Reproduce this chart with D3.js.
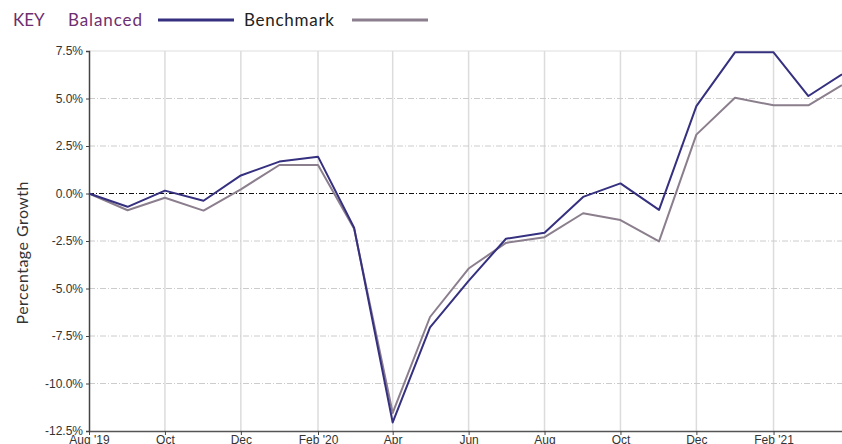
<!DOCTYPE html>
<html>
<head>
<meta charset="utf-8">
<script src="https://cdn.jsdelivr.net/npm/d3@7"></script>
<style>
  body { margin: 0; background: #fff; }
  .tick text { font-family: "Liberation Sans", Arial, sans-serif; font-size: 12px; fill: #333; }
</style>
</head>
<body>
<div id="chart"></div>
<script>
// monthly readings, % growth since Aug '19
var dates = ["2019-08-01","2019-09-01","2019-10-01","2019-11-01","2019-12-01","2020-01-01",
             "2020-02-01","2020-03-01","2020-04-01","2020-05-01","2020-06-01","2020-07-01",
             "2020-08-01","2020-09-01","2020-10-01","2020-11-01","2020-12-01","2021-01-01",
             "2021-02-01","2021-03-01","2021-03-28"];
var balanced  = [0, -0.7, 0.15, -0.38, 0.95, 1.68, 1.94, -1.8, -12.05, -7.05, -4.6, -2.38,
                 -2.07, -0.18, 0.53, -0.86, 4.6, 7.43, 7.43, 5.13, 6.27];
var benchmark = [0, -0.88, -0.22, -0.9, 0.22, 1.5, 1.5, -1.85, -11.55, -6.5, -3.95, -2.6,
                 -2.3, -1.04, -1.4, -2.52, 3.1, 5.04, 4.64, 4.64, 5.7];
var yTicks = [-12.5, -10, -7.5, -5, -2.5, 0, 2.5, 5, 7.5];
var xTickDates = ["2019-08-01","2019-10-01","2019-12-01","2020-02-01","2020-04-01","2020-06-01",
                  "2020-08-01","2020-10-01","2020-12-01","2021-02-01"];
var xTickLabels = ["Aug '19","Oct","Dec","Feb '20","Apr","Jun","Aug","Oct","Dec","Feb '21"];

var parse = d3.timeParse("%Y-%m-%d");
var series = [
  { key: "Balanced",  color: "#35307f", values: dates.map(function(d, i) { return { date: parse(d), value: balanced[i] }; }) },
  { key: "Benchmark", color: "#8b7e8d", values: dates.map(function(d, i) { return { date: parse(d), value: benchmark[i] }; }) }
];

var width = 842, height = 444,
    margin = { top: 51, right: 0, bottom: 13, left: 89 },
    innerW = width - margin.left - margin.right,
    innerH = height - margin.top - margin.bottom;

var svg = d3.select("#chart").append("svg")
    .attr("width", width)
    .attr("height", height);

// legend
var legend = svg.append("g").attr("font-family", "Lato, 'Open Sans', sans-serif").attr("font-size", 17);
legend.append("text").attr("x", 13).attr("y", 26).attr("fill", "#6e2f70").text("KEY");
legend.append("text").attr("x", 68).attr("y", 26).attr("fill", "#6e2f70").attr("textLength", 74).text("Balanced");
legend.append("line").attr("x1", 158).attr("x2", 234).attr("y1", 20).attr("y2", 20)
    .attr("stroke", series[0].color).attr("stroke-width", 3);
legend.append("text").attr("x", 244).attr("y", 26).attr("fill", "#222").attr("textLength", 90).text("Benchmark");
legend.append("line").attr("x1", 352).attr("x2", 428).attr("y1", 20).attr("y2", 20)
    .attr("stroke", series[1].color).attr("stroke-width", 3);

var g = svg.append("g").attr("transform", "translate(" + margin.left + "," + margin.top + ")");

var x = d3.scaleTime()
    .domain(d3.extent(series[0].values, function(d) { return d.date; }))
    .range([0, innerW]);
var y = d3.scaleLinear().domain([-12.5, 7.5]).range([innerH, 0]);

var tickDates = xTickDates.map(parse);

// vertical grid
g.selectAll(".vgrid").data(tickDates.slice(1)).enter().append("line")
  .attr("class", "vgrid")
  .attr("x1", function(d) { return x(d); }).attr("x2", function(d) { return x(d); })
  .attr("y1", 0).attr("y2", innerH)
  .attr("stroke", "#dcdcdc").attr("stroke-width", 1.5);

// horizontal grid
g.selectAll(".hgrid").data(yTicks.filter(function(v) { return v !== 0 && v !== -12.5; })).enter().append("line")
  .attr("class", "hgrid")
  .attr("x1", 0).attr("x2", innerW)
  .attr("y1", function(d) { return y(d); }).attr("y2", function(d) { return y(d); })
  .attr("stroke", function(d) { return d === 7.5 ? "#dddddd" : "#cccccc"; })
  .attr("stroke-width", 1)
  .attr("stroke-dasharray", function(d) { return d === 7.5 ? null : "6,2,1,2"; });

// zero line
g.append("line")
  .attr("x1", 0).attr("x2", innerW)
  .attr("y1", y(0)).attr("y2", y(0))
  .attr("stroke", "#111").attr("stroke-width", 1)
  .attr("stroke-dasharray", "5,2,1,2");

// axes
var fmt = function(v) { return v.toFixed(1) + "%"; };
var yAxis = g.append("g")
  .call(d3.axisLeft(y).tickValues(yTicks).tickFormat(fmt).tickSize(3).tickPadding(3));
yAxis.select(".domain").attr("stroke", "#444").attr("stroke-width", 1.5);
yAxis.selectAll(".tick line").attr("stroke", "#444");

var xAxis = g.append("g")
  .attr("transform", "translate(0," + innerH + ")")
  .call(d3.axisBottom(x).tickValues(tickDates)
    .tickFormat(function(d, i) { return xTickLabels[i]; }).tickSize(4).tickSizeOuter(0).tickPadding(0));
xAxis.select(".domain").attr("stroke", "#555").attr("stroke-width", 1.5);
xAxis.selectAll(".tick line").attr("stroke", "#444");

// y label
svg.append("text")
  .attr("transform", "translate(28,253) rotate(-90)")
  .attr("text-anchor", "middle")
  .attr("font-family", "Lato, 'Open Sans', sans-serif")
  .attr("font-size", 16)
  .attr("fill", "#333")
  .attr("textLength", 143)
  .text("Percentage Growth");

// lines
var line = d3.line()
    .x(function(d) { return x(d.date); })
    .y(function(d) { return y(d.value); });

g.selectAll(".line").data(series.slice().reverse()).enter().append("path")
  .attr("class", "line")
  .attr("d", function(d) { return line(d.values); })
  .attr("fill", "none")
  .attr("stroke", function(d) { return d.color; })
  .attr("stroke-width", 2)
  .attr("stroke-linejoin", "round");
</script>
</body>
</html>
